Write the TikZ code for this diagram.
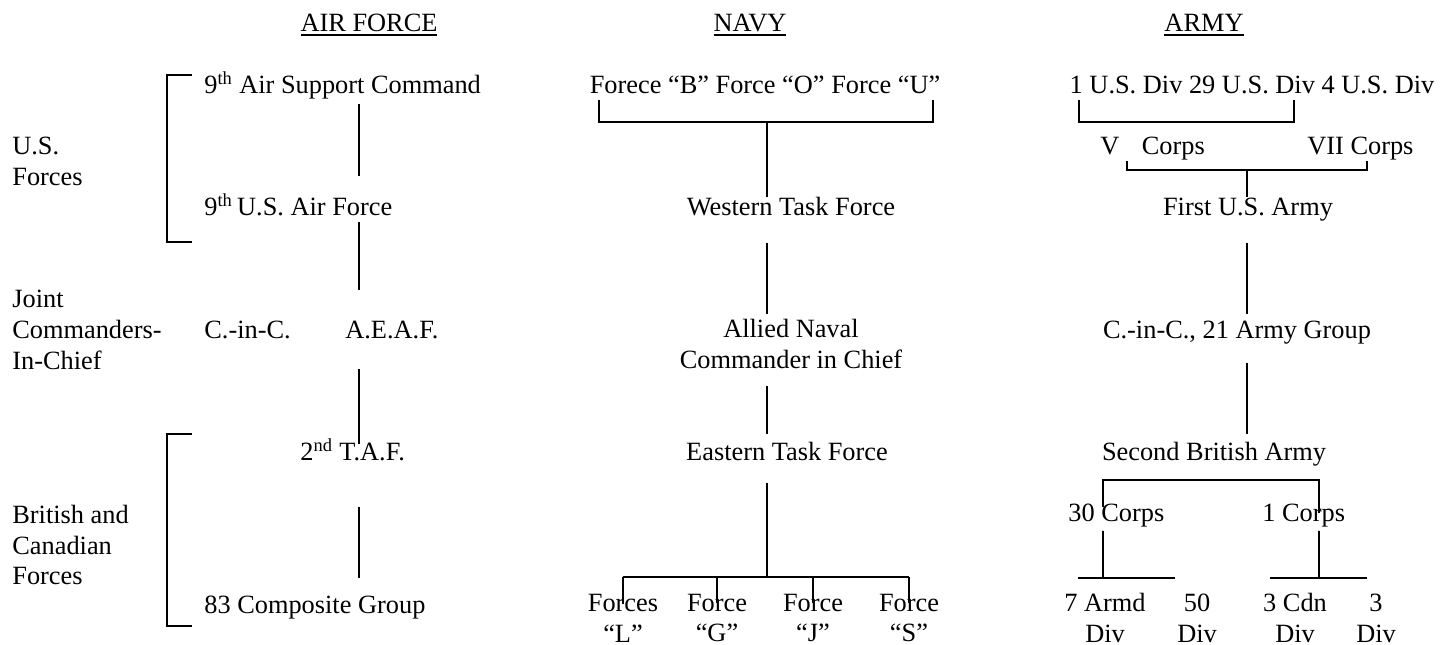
\documentclass[tikz,border=0pt]{standalone}
\usepackage{fontspec}
\setmainfont{Liberation Serif}
\usepackage{tikz}

\newcommand{\ulhead}[1]{\setbox0\hbox{#1}\rlap{\rule[-2.6pt]{\wd0}{1.1pt}}\box0}

\tikzset{
	lbl/.style={inner sep=0pt, font=\fontsize{15}{17.6}\selectfont},
	one/.style={lbl, text height=10.5pt, text depth=3.3pt, yshift=-1.4pt},
	link/.style={line width=1.1pt}
}

\begin{document}
\begin{tikzpicture}[x=0.02cm, y=-0.02cm]
				\useasboundingbox (0,0) rectangle (1453,645);

				%Headers
				\node[one] (haf) at (369,23) {\ulhead{AIR FORCE}};
				\node[one] (hnavy) at (750,23) {\ulhead{NAVY}};
				\node[one] (harmy) at (1204,23) {\ulhead{ARMY}};

				%Groups
				\node[lbl, align=left, anchor=west] (gus) at (12,161) {U.S.\\Forces};
				\node[lbl, align=left, anchor=west] (gjc) at (12,330) {Joint\\Commanders-\\In-Chief};
				\node[lbl, align=left, anchor=west] (gbc) at (12,545) {British and\\Canadian\\Forces};

				\draw[link] (192,75) -| (167,242) -- (192,242);
				\draw[link] (192,434) -| (167,626) -- (192,626);

				%Air force
				\coordinate (afx) at (359,0);
				\node[one, anchor=west] (asc) at (204,85) {9\textsuperscript{th} Air Support Command};
				\node[one, anchor=west] (usaf) at (204,207) {9\textsuperscript{th}\,U.S. Air Force};
				\node[one, anchor=west] (cinc) at (204,330) {C.-in-C.};
				\node[one, anchor=west] (aeaf) at (345,330) {A.E.A.F.};
				\node[one, anchor=west] (taf) at (300,452) {2\textsuperscript{nd} T.A.F.};
				\node[one, anchor=west] (comp) at (204,605) {83 Composite Group};

				\draw[link, shorten <=0.08cm, shorten >=0.42cm] (afx |- asc.south) -- (afx |- usaf.north);
				\draw[link, shorten >=0.6cm] (afx |- usaf.south) -- (afx |- aeaf.north);
				\draw[link, shorten <=0.48cm, shorten >=-0.04cm] (afx |- aeaf.south) -- (afx |- taf.north);
				\draw[link, shorten <=0.8cm, shorten >=0.34cm] (afx |- taf.south) -- (afx |- comp.north);

				%Navy
				\node[one] (nfor) at (765,85) {Forece “B” Force “O” Force “U”};
				\coordinate (nbj) at (767,122);
				\draw[link] ([xshift=0.2cm]nfor.south west) |- (nbj) -| ([xshift=-0.16cm]nfor.south east);
				\node[one] (wtf) at (791,207) {Western Task Force};
				\draw[link] (nbj) -- (nbj |- wtf.north);
				\node[lbl, align=center] (anc) at (791,344) {Allied Naval\\Commander in Chief};
				\draw[link, shorten <=0.42cm, shorten >=0.1cm] (nbj |- wtf.south) -- (nbj |- anc.north);
				\node[one] (etf) at (787,452) {Eastern Task Force};
				\draw[link, shorten <=0.34cm, shorten >=0.16cm] (nbj |- anc.south) -- (nbj |- etf.north);
				\coordinate (nbk) at (767,577);
				\draw[link, shorten <=0.32cm] (nbj |- etf.south) -- (nbk);

				\node[lbl, align=center] (nfl) at (623,618) {Forces\\“L”};
				\node[lbl, align=center] (nfg) at (717,618) {Force\\“G”};
				\node[lbl, align=center] (nfj) at (813,618) {Force\\“J”};
				\node[lbl, align=center] (nfs) at (909,618) {Force\\“S”};
				\draw[link] (nfl.north |- nbk) -- (nfs.north |- nbk);
				\foreach \n in {nfl,nfg,nfj,nfs}
					\draw[link] (\n.north |- nbk) -- ([yshift=-0.2cm]\n.north);

				%Army
				\node[one] (ndiv) at (1252,85) {1 U.S. Div 29 U.S. Div 4 U.S. Div};
				\draw[link] ([xshift=0.2cm]ndiv.south west) -- ++(0,22) -| ([xshift=4.5cm]ndiv.south west);
				\node[one, anchor=west] (nvc) at (1100,146) {V\hspace{0.85em}Corps};
				\node[one, anchor=west] (nviic) at (1307,146) {VII Corps};
				\coordinate (ncj) at (1247,170);
				\draw[link] ([xshift=0.54cm]nvc.south west) |- (ncj) -| ([xshift=1.2cm]nviic.south west);
				\node[one] (fua) at (1248,207) {First U.S. Army};
				\draw[link] (ncj) -- (ncj |- fua.north);
				\node[one] (cag) at (1237,330) {C.-in-C., 21 Army Group};
				\draw[link, shorten <=0.42cm, shorten >=0.12cm] (ncj |- fua.south) -- (ncj |- cag.north);
				\node[one] (sba) at (1214,452) {Second British Army};
				\draw[link, shorten <=0.36cm, shorten >=0.16cm] (ncj |- cag.south) -- (ncj |- sba.north);

				\node[one, anchor=west] (nc30) at (1068,513) {30 Corps};
				\node[one, anchor=west] (nc1) at (1262,513) {1 Corps};
				\draw[link] ([xshift=0.7cm,yshift=-0.08cm]nc30.north west) -- ++(0,-27) -| ([xshift=1.14cm,yshift=-0.2cm]nc1.north west);
				\coordinate (c30j) at (1103,578);
				\coordinate (c1j) at (1319,578);
				\draw[link, shorten <=0.06cm] ([xshift=0.7cm]nc30.south west) -- (c30j);
				\draw[link, shorten <=0.06cm] ([xshift=1.14cm]nc1.south west) -- (c1j);
				\draw[link] (c30j) ++(-25,0) -- ++(97,0);
				\draw[link] (c1j) ++(-49,0) -- ++(97,0);

				\node[lbl, align=center] (n7a) at (1105,618) {7 Armd\\Div};
				\node[lbl, align=center] (n50) at (1197,618) {50\\Div};
				\node[lbl, align=center] (n3c) at (1295,618) {3 Cdn\\Div};
				\node[lbl, align=center] (n3d) at (1376,618) {3\\Div};

			\end{tikzpicture}
\end{document}
